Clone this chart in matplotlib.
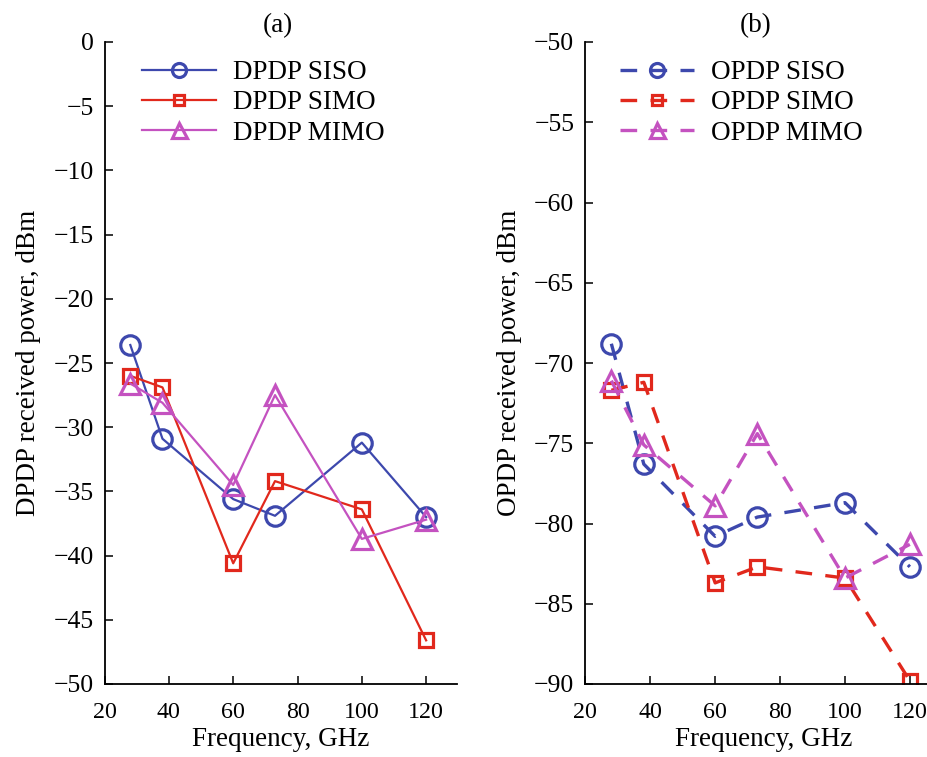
import matplotlib
matplotlib.use("Agg")
import matplotlib.pyplot as plt

plt.rcParams["font.family"] = ["Liberation Serif", "DejaVu Serif"]
plt.rcParams["axes.unicode_minus"] = True

# Frequencies (GHz)
freq = [28, 38, 60, 73, 100, 120]

# DPDP received power, dBm
dpdp_siso = [-23.6, -30.9, -35.6, -36.9, -31.2, -37.0]
dpdp_simo = [-26.0, -26.9, -40.6, -34.2, -36.4, -46.6]
dpdp_mimo = [-26.6, -28.1, -34.5, -27.5, -38.7, -37.2]

# OPDP received power, dBm
opdp_siso = [-68.8, -76.3, -80.8, -79.6, -78.7, -82.7]
opdp_simo = [-71.7, -71.2, -83.7, -82.7, -83.4, -89.8]
opdp_mimo = [-71.1, -75.1, -78.9, -74.4, -83.4, -81.3]

x_ticks = [20, 40, 60, 80, 100, 120]

BLUE = "#3d48ad"
RED = "#e1281c"
MAGENTA = "#c452c0"
FS_TICK = 18
FS_LABEL = 19.5
FS_LEG = 19.5

W, H = 927, 757
fig = plt.figure(figsize=(W / 100, H / 100), dpi=100)

x0a, x1a = 104.6, 457.0
x0b, x1b = 585.4, 941.0
ytop, ybot = 42.0, 684.0
ax1 = fig.add_axes([x0a / W, 1 - ybot / H, (x1a - x0a) / W, (ybot - ytop) / H])
ax2 = fig.add_axes([x0b / W, 1 - ybot / H, (x1b - x0b) / W, (ybot - ytop) / H])

styles = [("o", 14, BLUE), ("s", 10.5, RED), ("^", 15, MAGENTA)]


def style_axes(ax, ylim, yticks, ylabel, title, title_x):
    ax.set_xlim(20, 129.6)
    ax.set_ylim(*ylim)
    ax.set_xticks(x_ticks)
    ax.set_yticks(yticks)
    for side in ("top", "right"):
        ax.spines[side].set_visible(False)
    for side in ("left", "bottom"):
        ax.spines[side].set_linewidth(1.3)
    ax.tick_params(direction="in", length=6, width=1.1)
    ax.tick_params(axis="x", pad=13, labelsize=17.3)
    ax.tick_params(axis="y", pad=8, labelsize=FS_TICK + 0.5)
    ax.set_xlabel("Frequency, GHz", fontsize=FS_LABEL, labelpad=3)
    ax.set_ylabel(ylabel, fontsize=FS_LABEL, labelpad=9)
    ax.set_title(title, fontsize=FS_LABEL, pad=7, x=title_x)


# (a) DPDP
for (mk, ms, col), ys, lab in zip(styles, [dpdp_siso, dpdp_simo, dpdp_mimo],
                                  ["DPDP SISO", "DPDP SIMO", "DPDP MIMO"]):
    ax1.plot(freq, ys, color=col, lw=1.6, marker=mk, ms=ms, mew=2.3,
             fillstyle="none", label=lab)
style_axes(ax1, (-50, 0), range(-50, 1, 5), "DPDP received power, dBm", "(a)", 0.492)

# (b) OPDP
for (mk, ms, col), ys, lab in zip(styles, [opdp_siso, opdp_simo, opdp_mimo],
                                  ["OPDP SISO", "OPDP SIMO", "OPDP MIMO"]):
    ln, = ax2.plot(freq, ys, color=col, lw=2.4, marker=mk, ms=ms, mew=2.3,
                   fillstyle="none", label=lab, linestyle="--")
    ln.set_dashes((5.0, 4.0))
style_axes(ax2, (-90, -50), range(-90, -49, 5), "OPDP received power, dBm", "(b)", 0.48)

leg_kw = dict(frameon=False, fontsize=FS_LEG, handlelength=2.75, handletextpad=0.6,
              labelspacing=0.2, borderpad=0, borderaxespad=0, loc="upper left",
              markerscale=0.72)
ax1.legend(bbox_to_anchor=(142 / W, 1 - 60 / H), bbox_transform=fig.transFigure, **leg_kw)
ax2.legend(bbox_to_anchor=(620 / W, 1 - 60 / H), bbox_transform=fig.transFigure, **leg_kw)

fig.savefig("out.png", dpi=100)
